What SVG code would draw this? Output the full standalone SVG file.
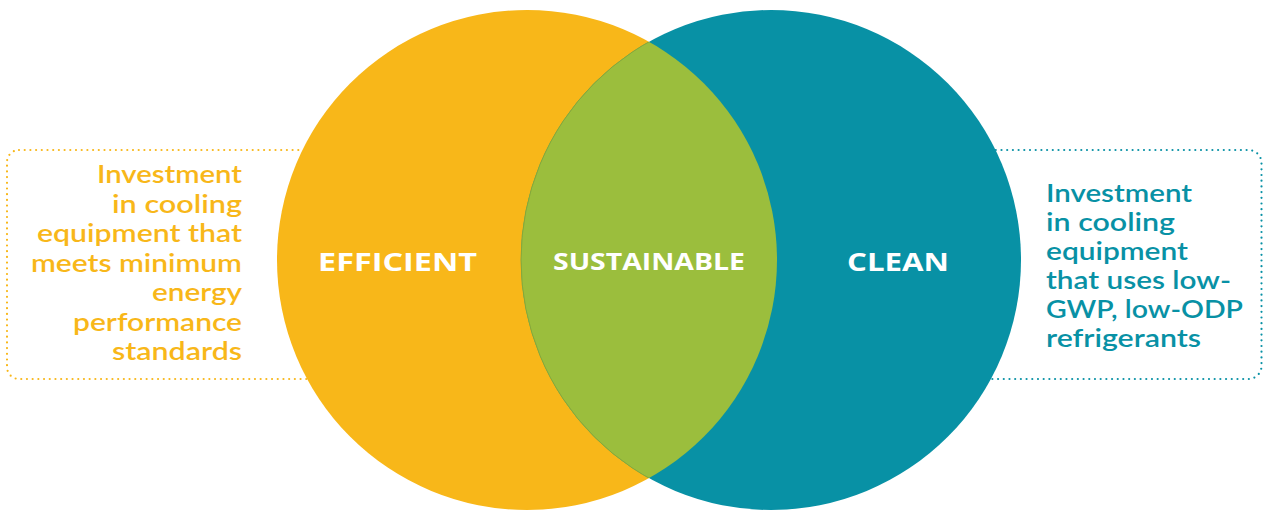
<svg xmlns="http://www.w3.org/2000/svg" width="1263" height="511" viewBox="0 0 1263 511">
<style>
.box{fill:none;stroke-width:2.2;stroke-linecap:round;stroke-dasharray:0 5.7}
.yb{stroke:#F8B719}
.tb{stroke:#0891A5}
.para{font-family:Lato,"Open Sans",sans-serif;font-size:24px;font-weight:600}
.yt{fill:#F8B719}
.tt{fill:#0891A5}
.lbl{font-family:"Open Sans","Noto Sans",sans-serif;font-size:25px;font-weight:700;fill:#ffffff;text-anchor:middle}
</style>
<defs>
<clipPath id="clipL"><circle cx="527" cy="260" r="250"/></clipPath>
</defs>
<g id="connectors">
<rect class="box yb" x="7" y="150" width="320" height="229" rx="12"/>
<rect class="box tb" x="960" y="150" width="301.5" height="229" rx="13"/>
</g>
<g id="efficient">
<circle cx="527" cy="260" r="250" fill="#F8B719"/>
<text class="lbl" x="397.5" y="271" textLength="159" lengthAdjust="spacingAndGlyphs">EFFICIENT</text>
</g>
<g id="clean">
<circle cx="771" cy="260" r="250" fill="#0891A5"/>
<text class="lbl" x="898" y="271" textLength="102" lengthAdjust="spacingAndGlyphs">CLEAN</text>
</g>
<g id="sustainable">
<circle cx="771" cy="260" r="250" fill="#9BBE3D" stroke="#86A83A" stroke-width="1" clip-path="url(#clipL)"/>
<text class="lbl" x="649" y="270" textLength="192" lengthAdjust="spacingAndGlyphs" style="font-size:24px">SUSTAINABLE</text>
</g>
<g id="efficient-note" class="para yt" text-anchor="end">
<text x="242" y="183" textLength="145" lengthAdjust="spacingAndGlyphs">Investment</text>
<text x="242" y="212.5" textLength="130" lengthAdjust="spacingAndGlyphs">in cooling</text>
<text x="242" y="242" textLength="205" lengthAdjust="spacingAndGlyphs">equipment that</text>
<text x="242" y="271.5" textLength="211" lengthAdjust="spacingAndGlyphs">meets minimum</text>
<text x="242" y="301" textLength="90" lengthAdjust="spacingAndGlyphs">energy</text>
<text x="242" y="330.5" textLength="169" lengthAdjust="spacingAndGlyphs">performance</text>
<text x="242" y="360" textLength="130" lengthAdjust="spacingAndGlyphs">standards</text>
</g>
<g id="clean-note" class="para tt">
<text x="1046" y="202" textLength="146" lengthAdjust="spacingAndGlyphs">Investment</text>
<text x="1046" y="231" textLength="129" lengthAdjust="spacingAndGlyphs">in cooling</text>
<text x="1046" y="260" textLength="142" lengthAdjust="spacingAndGlyphs">equipment</text>
<text x="1046" y="289" textLength="185" lengthAdjust="spacingAndGlyphs">that uses low-</text>
<text x="1046" y="318" textLength="197" lengthAdjust="spacingAndGlyphs">GWP, low-ODP</text>
<text x="1046" y="347" textLength="155" lengthAdjust="spacingAndGlyphs">refrigerants</text>
</g>
</svg>
